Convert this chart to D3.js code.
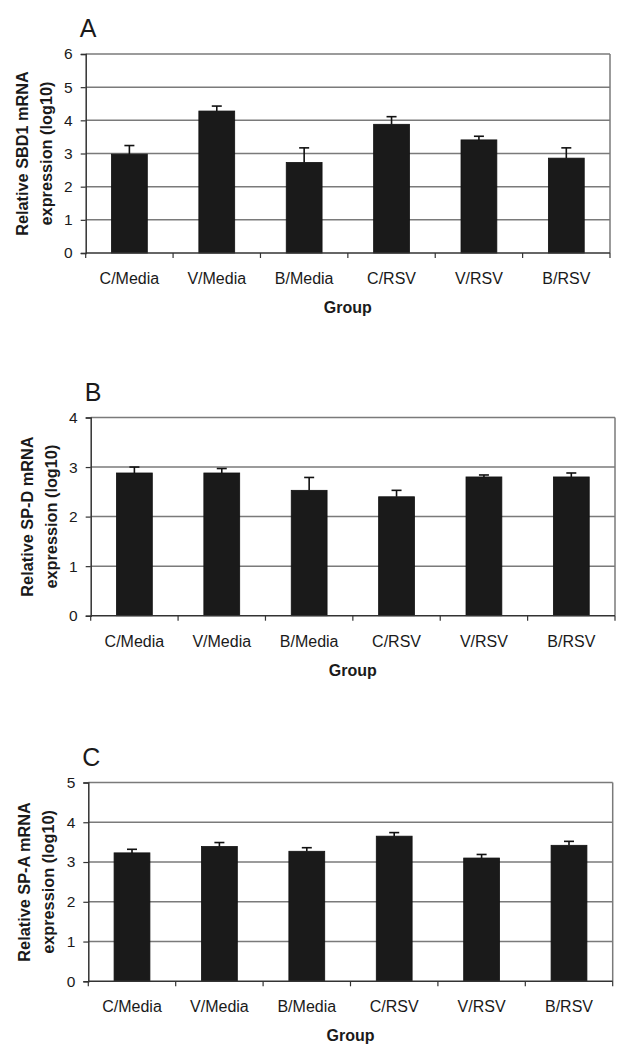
<!DOCTYPE html>
<html>
<head>
<meta charset="utf-8">
<script src="https://cdn.jsdelivr.net/npm/d3@7"></script>
<style>
  html, body { margin: 0; padding: 0; background: #fff; }
  svg { display: block; }
  text { font-family: "Liberation Sans", Arial, sans-serif; fill: #1a1a1a; }
</style>
</head>
<body>
<svg id="chart" width="625" height="1050"></svg>
<script>
// ---------- data ----------
const categories = ["C/Media", "V/Media", "B/Media", "C/RSV", "V/RSV", "B/RSV"];

const sbd1Means  = [2.98, 4.28, 2.73, 3.88, 3.41, 2.86];
const sbd1Errors = [0.26, 0.15, 0.44, 0.23, 0.11, 0.31];

const spdMeans  = [2.88, 2.88, 2.53, 2.40, 2.80, 2.80];
const spdErrors = [0.12, 0.09, 0.26, 0.13, 0.04, 0.08];

const spaMeans  = [3.23, 3.39, 3.27, 3.65, 3.10, 3.42];
const spaErrors = [0.09, 0.10, 0.09, 0.09, 0.09, 0.10];

const sbd1Ticks = [0, 1, 2, 3, 4, 5, 6];
const spdTicks  = [0, 1, 2, 3, 4];
const spaTicks  = [0, 1, 2, 3, 4, 5];

const panelLetters = ["A", "B", "C"];
const yTitles = [
  ["Relative SBD1 mRNA", "expression (log10)"],
  ["Relative SP-D mRNA", "expression (log10)"],
  ["Relative SP-A mRNA", "expression (log10)"]
];
const xTitle = "Group";

// ---------- layout ----------
const panels = [
  { means: sbd1Means, errs: sbd1Errors, ticks: sbd1Ticks, letter: panelLetters[0], title: yTitles[0],
    left: 85.7, right: 610, top: 54, bottom: 253 },
  { means: spdMeans, errs: spdErrors, ticks: spdTicks, letter: panelLetters[1], title: yTitles[1],
    left: 90.7, right: 615, top: 417.5, bottom: 615.7 },
  { means: spaMeans, errs: spaErrors, ticks: spaTicks, letter: panelLetters[2], title: yTitles[2],
    left: 88.3, right: 612.7, top: 782.5, bottom: 981.3 }
];

const svg = d3.select("#chart");
const gridColor = "#7a7a7a";
const axisColor = "#333";

panels.forEach(p => {
  const g = svg.append("g");
  const yMax = d3.max(p.ticks);
  const x = d3.scaleBand().domain(categories).range([p.left, p.right])
    .paddingInner(0.59).paddingOuter(0.295);
  const y = d3.scaleLinear().domain([0, yMax]).range([p.bottom, p.top]);

  // gridlines (including top)
  g.append("g").selectAll("line").data(p.ticks.filter(t => t > 0)).join("line")
    .attr("x1", p.left).attr("x2", p.right)
    .attr("y1", d => y(d)).attr("y2", d => y(d))
    .attr("stroke", gridColor).attr("stroke-width", 1.5);

  // right border
  g.append("line").attr("x1", p.right).attr("x2", p.right)
    .attr("y1", y(yMax)).attr("y2", y(0))
    .attr("stroke", gridColor).attr("stroke-width", 1.5);

  // bars
  g.append("g").selectAll("rect").data(p.means).join("rect")
    .attr("x", (d, i) => x(categories[i]))
    .attr("width", x.bandwidth())
    .attr("y", d => y(d))
    .attr("height", d => y(0) - y(d))
    .attr("fill", "#1a1a1a")
    .attr("stroke", "#111").attr("stroke-width", 0.8);

  // error bars (upper only)
  const eb = g.append("g").attr("stroke", "#111").attr("stroke-width", 1.6);
  p.means.forEach((m, i) => {
    const cx = x(categories[i]) + x.bandwidth() / 2;
    eb.append("line").attr("x1", cx).attr("x2", cx)
      .attr("y1", y(m)).attr("y2", y(m + p.errs[i]));
    eb.append("line").attr("x1", cx - 5).attr("x2", cx + 5)
      .attr("y1", y(m + p.errs[i])).attr("y2", y(m + p.errs[i]));
  });

  // y axis
  const ya = g.append("g").attr("transform", `translate(${p.left},0)`)
    .call(d3.axisLeft(y).tickValues(p.ticks).tickFormat(d3.format("d")).tickSize(5).tickPadding(8));
  ya.select(".domain").attr("stroke", axisColor).attr("stroke-width", 1.5);
  ya.selectAll(".tick line").attr("stroke", axisColor).attr("stroke-width", 1.2);
  ya.selectAll(".tick text").attr("font-size", 15.5).attr("fill", "#1a1a1a")
    .attr("font-family", "'Liberation Sans', Arial, sans-serif");

  // x axis: line with ticks at category boundaries, labels centered
  const boundaries = d3.range(categories.length + 1).map(i => p.left + i * x.step());
  const xa = g.append("g");
  xa.append("line").attr("x1", p.left).attr("x2", p.right)
    .attr("y1", p.bottom).attr("y2", p.bottom)
    .attr("stroke", axisColor).attr("stroke-width", 1.5);
  xa.selectAll("line.bt").data(boundaries).join("line").attr("class", "bt")
    .attr("x1", d => d).attr("x2", d => d)
    .attr("y1", p.bottom).attr("y2", p.bottom + 5)
    .attr("stroke", axisColor).attr("stroke-width", 1.2);
  xa.selectAll("text").data(categories).join("text")
    .attr("x", d => x(d) + x.bandwidth() / 2)
    .attr("y", p.bottom + 31)
    .attr("text-anchor", "middle")
    .attr("font-size", 16)
    .text(d => d);

  // x title
  g.append("text").attr("x", (p.left + p.right) / 2).attr("y", p.bottom + 60)
    .attr("text-anchor", "middle").attr("font-size", 16).attr("font-weight", "bold")
    .text(xTitle);

  // y title (two lines, rotated)
  const cy = (p.top + p.bottom) / 2;
  const yt = g.append("text")
    .attr("transform", `translate(${p.left - 58},${cy}) rotate(-90)`)
    .attr("text-anchor", "middle").attr("font-size", 16.3).attr("font-weight", "bold");
  yt.append("tspan").attr("x", 0).attr("dy", 0).text(p.title[0]);
  yt.append("tspan").attr("x", 0).attr("dy", 24).text(p.title[1]);

  // panel letter
  g.append("text").attr("x", p.left - 6).attr("y", p.top - 17)
    .attr("font-size", 25).text(p.letter);
});
</script>
</body>
</html>
